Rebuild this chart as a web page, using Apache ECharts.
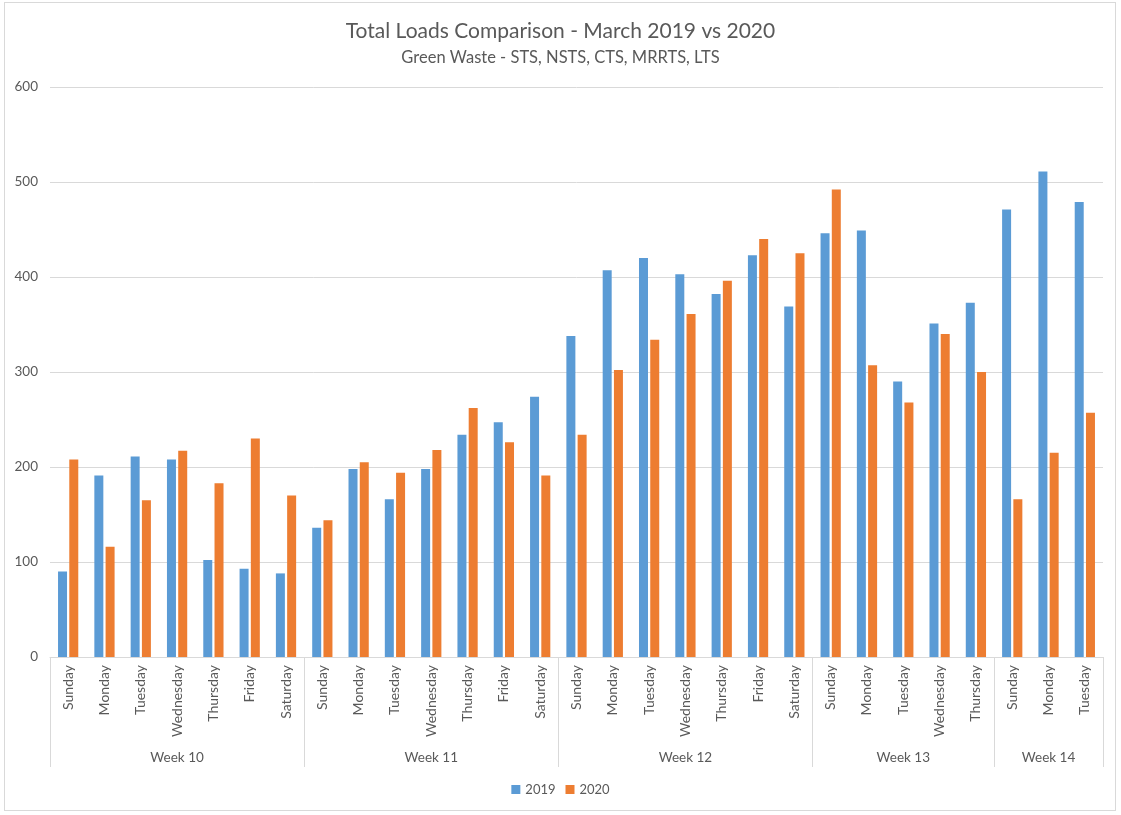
<!DOCTYPE html>
<html>
<head>
<meta charset="utf-8">
<script src="https://cdn.jsdelivr.net/npm/echarts@6/dist/echarts.min.js"></script>
<style>
html,body{margin:0;padding:0;background:#fff;}
#frame{position:absolute;left:4px;top:2px;width:1112px;height:809px;border:1px solid #d9d9d9;box-sizing:border-box;}
#chart{position:absolute;left:0;top:0;width:1121px;height:815px;}
</style>
</head>
<body>
<div id="frame"></div>
<div id="chart"></div>
<script>
const weeks = ['Week 10', 'Week 11', 'Week 12', 'Week 13', 'Week 14'];
const weekDays = [
  ['Sunday','Monday','Tuesday','Wednesday','Thursday','Friday','Saturday'],
  ['Sunday','Monday','Tuesday','Wednesday','Thursday','Friday','Saturday'],
  ['Sunday','Monday','Tuesday','Wednesday','Thursday','Friday','Saturday'],
  ['Sunday','Monday','Tuesday','Wednesday','Thursday'],
  ['Sunday','Monday','Tuesday']
];
const loads2019 = [90,191,211,208,102,93,88, 136,198,166,198,234,247,274, 338,407,420,403,382,423,369, 446,449,290,351,373, 471,511,479];
const loads2020 = [208,116,165,217,183,230,170, 144,205,194,218,262,226,191, 234,302,334,361,396,440,425, 492,307,268,340,300, 166,215,257];
const yTicks = {min: 0, max: 600, interval: 100};

const days = [];
const weekLabels = [];
const boundaries = new Set();
weekDays.forEach((list, w) => {
  boundaries.add(days.length);
  const start = days.length;
  list.forEach(d => { days.push(d); weekLabels.push(''); });
  weekLabels[start + Math.floor((list.length - 1) / 2)] = weeks[w];
});

const grey = '#595959';
const font = 'Lato, "Open Sans", sans-serif';
const chart = echarts.init(document.getElementById('chart'));
chart.setOption({
  animation: false,
  textStyle: {fontFamily: font},
  title: {
    text: 'Total Loads Comparison - March 2019 vs 2020',
    subtext: 'Green Waste - STS, NSTS, CTS, MRRTS, LTS',
    left: 'center', top: 16, itemGap: 7,
    textStyle: {fontFamily: font, fontSize: 21, fontWeight: 'normal', color: grey},
    subtextStyle: {fontFamily: font, fontSize: 16.5, color: grey}
  },
  legend: {
    top: 778, left: 'center',
    itemWidth: 9, itemHeight: 9, itemGap: 10,
    icon: 'rect',
    textStyle: {fontFamily: font, fontSize: 13, color: grey},
    data: ['2019', '2020']
  },
  grid: {left: 50, right: 18, top: 87, bottom: 158, containLabel: false},
  xAxis: [
    {
      type: 'category', data: days, position: 'bottom',
      axisLine: {show: true, lineStyle: {color: '#d9d9d9'}},
      axisTick: {show: true, length: 110, lineStyle: {color: '#d9d9d9'},
        interval: (i) => boundaries.has(i)},
      axisLabel: {rotate: 90, interval: 0, margin: 8, fontFamily: font, fontSize: 14, color: grey}
    },
    {
      type: 'category', data: weekLabels, position: 'bottom',
      axisLine: {show: false}, axisTick: {show: false},
      axisLabel: {interval: 0, margin: 94, fontFamily: font, fontSize: 13.5, color: grey}
    }
  ],
  yAxis: {
    type: 'value', min: yTicks.min, max: yTicks.max, interval: yTicks.interval,
    axisLine: {show: false}, axisTick: {show: false},
    axisLabel: {fontFamily: font, fontSize: 13.5, color: grey, margin: 12},
    splitLine: {lineStyle: {color: '#d9d9d9'}}
  },
  series: [
    {name: '2019', type: 'bar', data: loads2019, barWidth: 9, barGap: '25%',
      itemStyle: {color: '#5B9BD5'}},
    {name: '2020', type: 'bar', data: loads2020, barWidth: 9, barGap: '25%',
      itemStyle: {color: '#ED7D31'}}
  ]
});
</script>
</body>
</html>
